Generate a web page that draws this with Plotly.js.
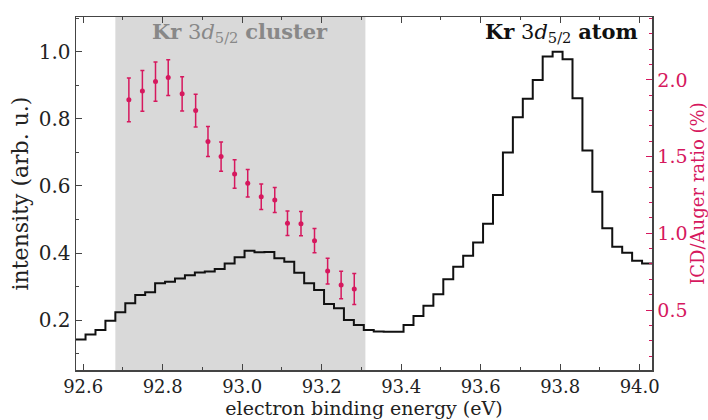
<!DOCTYPE html>
<html>
<head>
<meta charset="utf-8">
<script src="https://cdn.plot.ly/plotly-3.0.1.min.js"></script>
<style>html,body{margin:0;padding:0;background:#fff;}#chart{width:708px;height:420px;}</style>
</head>
<body>
<div id="chart"></div>
<script>
// Bin edges (eV) of the photoelectron spectrum histogram
const binEdges = [92.581, 92.606, 92.631, 92.656, 92.681, 92.706, 92.731, 92.756, 92.781, 92.806,
  92.831, 92.856, 92.881, 92.906, 92.931, 92.956, 92.981, 93.006, 93.031, 93.056,
  93.081, 93.106, 93.131, 93.156, 93.181, 93.206, 93.231, 93.256, 93.281, 93.306,
  93.331, 93.356, 93.381, 93.406, 93.431, 93.456, 93.481, 93.506, 93.531, 93.556,
  93.581, 93.606, 93.631, 93.656, 93.681, 93.706, 93.731, 93.756, 93.781, 93.806,
  93.831, 93.856, 93.881, 93.906, 93.931, 93.956, 93.981, 94.006, 94.031];
// Intensity per bin (arb. u.)
const intensity = [0.142, 0.157, 0.170, 0.198, 0.223, 0.250, 0.275, 0.283, 0.310, 0.314,
  0.324, 0.334, 0.342, 0.345, 0.352, 0.369, 0.387, 0.407, 0.402, 0.403,
  0.384, 0.374, 0.341, 0.310, 0.290, 0.248, 0.235, 0.200, 0.185, 0.170,
  0.166, 0.165, 0.165, 0.185, 0.212, 0.243, 0.277, 0.322, 0.359, 0.392,
  0.431, 0.487, 0.573, 0.700, 0.805, 0.860, 0.916, 0.986, 1.000, 0.978,
  0.862, 0.706, 0.583, 0.474, 0.419, 0.401, 0.377, 0.369];
// ICD/Auger ratio points
const ratioEnergy = [92.715, 92.749, 92.782, 92.814, 92.849, 92.883, 92.914, 92.947, 92.981,
  93.014, 93.048, 93.082, 93.114, 93.148, 93.182, 93.215, 93.249, 93.282];
const ratioValue = [1.870, 1.928, 1.989, 2.015, 1.909, 1.800, 1.598, 1.500, 1.387,
  1.326, 1.239, 1.217, 1.065, 1.063, 0.952, 0.754, 0.663, 0.637];
const ratioError = [0.142, 0.133, 0.128, 0.117, 0.112, 0.107, 0.098, 0.095, 0.093,
  0.090, 0.083, 0.082, 0.080, 0.079, 0.079, 0.084, 0.089, 0.101];
// Cluster region
const clusterRange = [92.681, 93.31];

const RED = '#d6185e';
const FONT = 'DejaVu Serif, serif';
const INK = '#222';

const stepY = intensity.concat([intensity[intensity.length - 1]]);

const traces = [
  {
    x: binEdges, y: stepY, type: 'scatter', mode: 'lines',
    line: {shape: 'hv', color: '#111', width: 2},
    hoverinfo: 'skip', showlegend: false
  },
  {
    x: ratioEnergy, y: ratioValue, yaxis: 'y2', type: 'scatter', mode: 'markers',
    marker: {color: RED, size: 5},
    error_y: {type: 'data', array: ratioError, visible: true, color: RED, thickness: 1.5, width: 2},
    showlegend: false
  }
];

const layout = {
  width: 708, height: 420,
  margin: {l: 76, r: 56, t: 17, b: 50},
  paper_bgcolor: '#fff', plot_bgcolor: '#fff',
  font: {family: FONT, size: 18, color: INK},
  showlegend: false,
  xaxis: {
    range: [92.582, 94.031],
    tickvals: [92.6, 92.8, 93.0, 93.2, 93.4, 93.6, 93.8, 94.0],
    ticktext: ['92.6', '92.8', '93.0', '93.2', '93.4', '93.6', '93.8', '94.0'],
    ticks: 'inside', ticklen: 6, tickwidth: 1, tickcolor: '#444',
    minor: {dtick: 0.1, tick0: 92.6, ticks: 'inside', ticklen: 3, tickcolor: '#444'},
    showline: true, linecolor: '#444', linewidth: 1.5, mirror: 'ticks',
    showgrid: false, zeroline: false,
    tickfont: {family: FONT, size: 18, color: INK},
    title: {text: 'electron binding energy (eV)', font: {family: FONT, size: 19, color: INK}, standoff: 0}
  },
  yaxis: {
    range: [0.051, 1.104],
    tickvals: [0.2, 0.4, 0.6, 0.8, 1.0],
    ticktext: ['0.2', '0.4', '0.6', '0.8', '1.0'],
    ticks: 'inside', ticklen: 6, tickwidth: 1, tickcolor: '#444',
    minor: {dtick: 0.1, tick0: 0, ticks: 'inside', ticklen: 3, tickcolor: '#444'},
    showline: true, linecolor: '#444', linewidth: 1.5,
    showgrid: false, zeroline: false,
    tickfont: {family: FONT, size: 20, color: INK},
    title: {text: 'intensity (arb. u.)', font: {family: FONT, size: 22, color: INK}, standoff: 4}
  },
  yaxis2: {
    overlaying: 'y', side: 'right',
    range: [0.109, 2.41],
    tickvals: [0.5, 1.0, 1.5, 2.0],
    ticktext: ['0.5', '1.0', '1.5', '2.0'],
    ticks: 'inside', ticklen: 6, tickwidth: 1, tickcolor: RED,
    minor: {dtick: 0.1, tick0: 0, ticks: 'inside', ticklen: 3, tickcolor: RED},
    showline: true, linecolor: '#444', linewidth: 1.5,
    showgrid: false, zeroline: false,
    tickfont: {family: FONT, size: 19, color: RED},
    title: {text: 'ICD/Auger ratio (%)', font: {family: FONT, size: 18, color: RED}, standoff: 6}
  },
  shapes: [{
    type: 'rect', xref: 'x', yref: 'paper',
    x0: clusterRange[0], x1: clusterRange[1], y0: 0, y1: 1,
    fillcolor: '#d9d9d9', line: {width: 0}, layer: 'below'
  }],
  annotations: [
    {
      xref: 'x', yref: 'paper', x: (clusterRange[0] + clusterRange[1]) / 2, y: 0.955,
      text: '<b>Kr</b> 3<i>d</i><sub>5/2</sub> <b>cluster</b>', showarrow: false,
      font: {family: FONT, size: 21, color: '#888'}, xanchor: 'center', yanchor: 'middle'
    },
    {
      xref: 'paper', yref: 'paper', x: 0.98, y: 0.955,
      text: '<b>Kr</b> 3<i>d</i><sub>5/2</sub> <b>atom</b>', showarrow: false,
      font: {family: FONT, size: 21, color: '#111'}, xanchor: 'right', yanchor: 'middle'
    }
  ]
};

Plotly.newPlot('chart', traces, layout, {staticPlot: true, displayModeBar: false});
</script>
</body>
</html>
